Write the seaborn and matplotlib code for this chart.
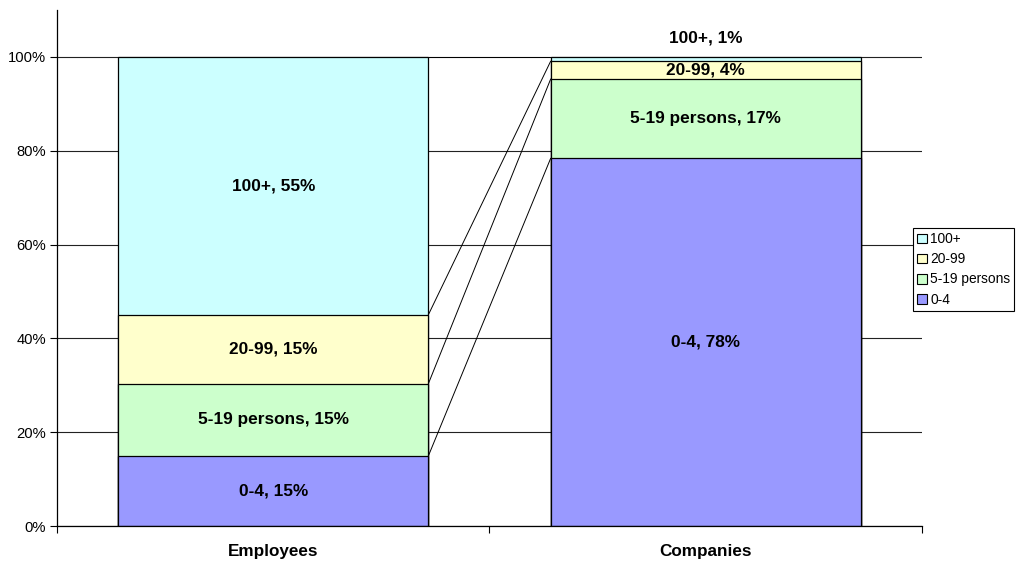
import matplotlib
matplotlib.use("Agg")
import matplotlib.pyplot as plt
from matplotlib.patches import Patch
from matplotlib.ticker import FixedLocator, PercentFormatter
import numpy as np
import pandas as pd
import seaborn as sns

# Size classes, bottom to top of each stack
classes = ["0-4", "5-19 persons", "20-99", "100+"]
groups = ["Employees", "Companies"]
employees_share = [14.9, 15.4, 14.7, 55.0]
companies_share = [78.4, 16.9, 3.8, 0.9]
class_colors = ["#9999FF", "#CCFFCC", "#FFFFCC", "#CCFFFF"]
y_ticks = [0, 20, 40, 60, 80, 100]

sns.set_style("white")
plt.rcParams["font.family"] = ["Liberation Sans", "DejaVu Sans"]
plt.rcParams["text.color"] = "black"
plt.rcParams["xtick.color"] = "black"
plt.rcParams["ytick.color"] = "black"
plt.rcParams["xtick.labelcolor"] = "black"
plt.rcParams["ytick.labelcolor"] = "black"

shares = np.array([employees_share, companies_share]) / 100.0  # (group, class)
tops = np.cumsum(shares, axis=1)
bottoms = tops - shares

fig = plt.figure(figsize=(10.2, 5.65), dpi=100)
ax = fig.add_axes([57 / 1020, 1 - 526 / 565, 865 / 1020, 516 / 565])

bar_w = 0.717

# Stacked bars: draw cumulative heights from the top class down
for k in range(len(classes) - 1, -1, -1):
    df = pd.DataFrame({"group": groups, "top": tops[:, k]})
    sns.barplot(data=df, x="group", y="top", order=groups, color=class_colors[k],
                width=bar_w, edgecolor="black", linewidth=0.9, saturation=1,
                ax=ax, zorder=2)

# Series lines joining the tops of matching segments
for k in range(len(classes)):
    ax.plot([0 + bar_w / 2, 1 - bar_w / 2], [tops[0, k], tops[1, k]],
            color="black", lw=0.7, zorder=3)

# Segment labels
for g in range(len(groups)):
    for k, name in enumerate(classes):
        val = shares[g, k]
        y = bottoms[g, k] + val / 2
        if g == 1 and k == len(classes) - 1:
            y = 1.04
        ax.text(g, y, f"{name}, {round(val * 100):.0f}%", ha="center", va="center",
                fontsize=12.4, fontweight="bold", color="black", zorder=4)

ax.set_xlim(-0.5, 1.5)
ax.set_ylim(0, 1.1)
ax.yaxis.set_major_locator(FixedLocator([t / 100 for t in y_ticks]))
ax.yaxis.set_major_formatter(PercentFormatter(1.0, decimals=0))
ax.grid(axis="y", color="#222222", lw=0.8)
ax.set_axisbelow(True)

ax.set_xlabel("")
ax.set_ylabel("")
for s in ["top", "right"]:
    ax.spines[s].set_visible(False)
for s in ["left", "bottom"]:
    ax.spines[s].set_color("black")
    ax.spines[s].set_linewidth(0.9)

ax.tick_params(axis="y", which="major", direction="out", length=5, width=0.8,
               color="black", labelsize=10.6, pad=3, left=True)
ax.tick_params(axis="x", which="major", length=0, labelsize=12.3, pad=13)
ax.xaxis.set_minor_locator(FixedLocator([-0.5, 0.5, 1.5]))
ax.tick_params(axis="x", which="minor", direction="out", length=5, width=0.8,
               color="black", bottom=True)
for lbl in ax.get_xticklabels():
    lbl.set_fontweight("bold")

handles = [Patch(facecolor=c, edgecolor="black", lw=0.8) for c in class_colors]
leg = fig.legend(handles[::-1], classes[::-1], loc="upper left",
                 bbox_to_anchor=(913 / 1020, 1 - 228 / 565), fontsize=9.9,
                 frameon=True, fancybox=False, shadow=False, framealpha=1,
                 handlelength=0.7, handleheight=0.7, handletextpad=0.25,
                 labelspacing=0.45, borderpad=0.3, borderaxespad=0)
leg.get_frame().set_edgecolor("black")
leg.get_frame().set_linewidth(0.8)
for t in leg.get_texts():
    t.set_color("black")

fig.savefig("out.png", dpi=100)
